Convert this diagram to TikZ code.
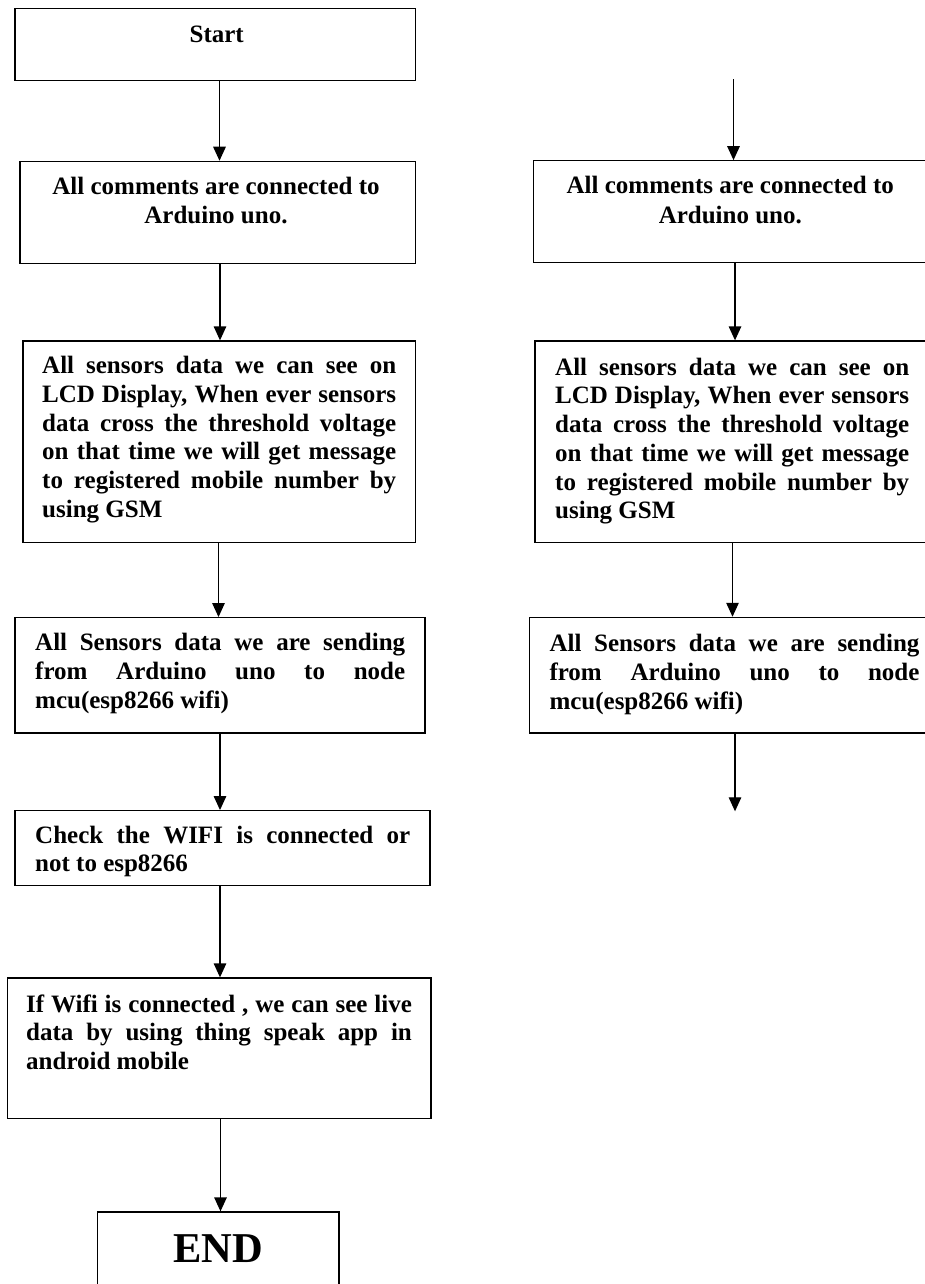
\documentclass[tikz,border=0pt]{standalone}
\usepackage{fontspec}
\setmainfont{Liberation Serif}
\usetikzlibrary{arrows.meta}
\newcommand\jl[2]{\makebox[#1pt][s]{#2}}
\tikzset{
  box/.style={draw=black, line width=1.3pt, inner sep=0pt, rectangle},
  arr/.style={draw=black, line width=1.3pt, -{Triangle[width=12.5pt,length=14pt]}},
  txt/.style={anchor=north west, inner sep=0pt, align=left, font=\bfseries\fontsize{25}{28.75}\selectfont},
  ctxt/.style={anchor=north, inner sep=0pt, align=center, font=\bfseries\fontsize{25}{29.2}\selectfont}
}
\begin{document}
\begin{tikzpicture}[x=1pt,y=-1pt]
\useasboundingbox (0,0) rectangle (925,1284);
\fill[white] (0,0) rectangle (925,1284);
\clip (0,0) rectangle (925,1284);

% ---------- left column boxes ----------
\node[box, minimum width=400.7pt, minimum height=71.8pt] (start) at (215.35,44.5) {};
\node[box, minimum width=395.7pt, minimum height=101.8pt] (c2) at (217.85,212.3) {};
\node[box, minimum width=392.7pt, minimum height=201.5pt] (c3) at (219.35,441.75) {};
\node[box, minimum width=410pt, minimum height=115.3pt] (c4) at (220,675.35) {};
\node[box, minimum width=415pt, minimum height=74.8pt] (c5) at (222.5,848.1) {};
\node[box, minimum width=423.7pt, minimum height=140.7pt] (c6) at (219.15,1048.35) {};
\node[box, minimum width=241.3pt, minimum height=120pt] (endb) at (218.35,1272) {};

% ---------- right column boxes ----------
\node[box, minimum width=406.7pt, minimum height=101.8pt] (r2) at (736.65,211.7) {};
\node[box, minimum width=405pt, minimum height=201.5pt] (r3) at (737.5,441.75) {};
\node[box, minimum width=415.7pt, minimum height=115.6pt] (r4) at (737.15,675.2) {};

% ---------- texts ----------
\node[anchor=base, inner sep=0pt, font=\bfseries\fontsize{25}{29}\selectfont] (tstart) at (216.7,42.9) {Start};
\node[ctxt] (t2) at (216,177) {All comments are connected to\\Arduino uno.};
\node[ctxt] (tr2) at (730.3,176.3) {All comments are connected to\\Arduino uno.};

\node[txt] (t3) at (42,356) {\jl{354}{All sensors data we can see on}\\
\jl{354}{LCD Display, When ever sensors}\\
\jl{354}{data cross the threshold voltage}\\
\jl{354}{on that time we will get message}\\
\jl{354}{to registered mobile number by}\\
using GSM};
\node[txt] (tr3) at (555,357.5) {\jl{354}{All sensors data we can see on}\\
\jl{354}{LCD Display, When ever sensors}\\
\jl{354}{data cross the threshold voltage}\\
\jl{354}{on that time we will get message}\\
\jl{354}{to registered mobile number by}\\
using GSM};

\node[txt] (t4) at (35,633.3) {\jl{370}{All Sensors data we are sending}\\
\jl{370}{from Arduino uno to node}\\
mcu(esp8266 wifi)};
\node[txt] (tr4) at (549.3,634) {\jl{370}{All Sensors data we are sending}\\
\jl{370}{from Arduino uno to node}\\
mcu(esp8266 wifi)};

\node[txt] (t5) at (35,825.6) {\jl{375}{Check the WIFI is connected or}\\
not to esp8266};

\node[txt] (t6) at (26,994.3) {\jl{385.7}{If Wifi is connected , we can see live}\\
\jl{385.7}{data by using thing speak app in}\\
android mobile};

\node[anchor=base, inner sep=0pt, font=\bfseries\fontsize{42.5}{48}\selectfont] (tend) at (218,1262) {END};

% ---------- connector x positions ----------
\coordinate (x1) at (219.5,0);
\coordinate (x2) at (220,0);
\coordinate (x3) at (218.5,0);
\coordinate (x4) at (220,0);
\coordinate (x5) at (220,0);
\coordinate (x6) at (220.5,0);
\coordinate (y1) at (733.5,0);
\coordinate (y2) at (735,0);
\coordinate (y3) at (732.5,0);
\coordinate (y4) at (735,0);
\coordinate (rtop) at (733.5,79.4);
\coordinate (rbot) at (735,811.3);

% ---------- left connectors ----------
\draw[arr] (start.south -| x1) -- (c2.north -| x1);
\draw[arr] (c2.south -| x2) -- (c3.north -| x2);
\draw[arr] (c3.south -| x3) -- (c4.north -| x3);
\draw[arr] (c4.south -| x4) -- (c5.north -| x4);
\draw[arr] (c5.south -| x5) -- (c6.north -| x5);
\draw[arr] (c6.south -| x6) -- (endb.north -| x6);

% ---------- right connectors ----------
\draw[arr] (rtop) -- (r2.north -| y1);
\draw[arr] (r2.south -| y2) -- (r3.north -| y2);
\draw[arr] (r3.south -| y3) -- (r4.north -| y3);
\draw[arr] (r4.south -| y4) -- (rbot);
\end{tikzpicture}
\end{document}
